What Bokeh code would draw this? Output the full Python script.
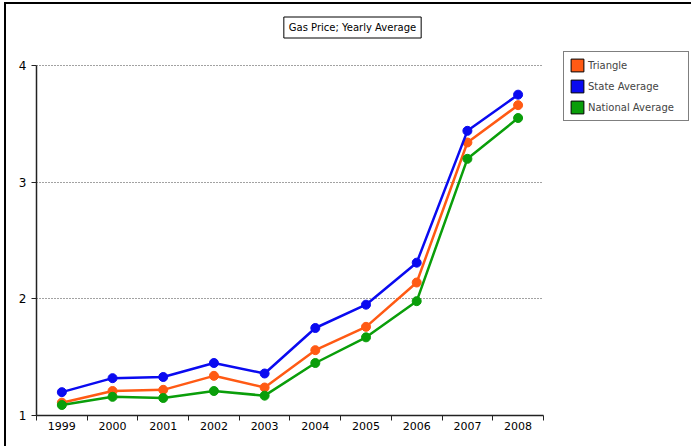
from bokeh.plotting import figure
from bokeh.models import FixedTicker, Label, Legend, LegendItem
from bokeh.embed import file_html
from bokeh.resources import INLINE

years = ["1999", "2000", "2001", "2002", "2003", "2004", "2005", "2006", "2007", "2008"]
triangle = [1.11, 1.21, 1.22, 1.34, 1.24, 1.56, 1.76, 2.14, 3.34, 3.66]
state_avg = [1.20, 1.32, 1.33, 1.45, 1.36, 1.75, 1.95, 2.31, 3.44, 3.75]
national_avg = [1.09, 1.16, 1.15, 1.21, 1.17, 1.45, 1.67, 1.98, 3.20, 3.55]
y_ticks = [1, 2, 3, 4]

series = [
    ("Triangle", triangle, "#ff5a14"),
    ("State Average", state_avg, "#0a0af0"),
    ("National Average", national_avg, "#0a9e0a"),
]

FONT = "DejaVu Sans"
n = len(years)
y_lo, y_hi = y_ticks[0], y_ticks[-1]

# frame covers the canvas so the title and legend are not clipped;
# axes and grid are bounded to the data area
p = figure(width=687, height=444, output_backend="svg", toolbar_location=None,
           x_range=(0, n * 1.296), y_range=(y_lo, y_lo + (y_hi - y_lo) * 1.1743),
           min_border_left=30, min_border_top=0, min_border_right=0, min_border_bottom=33)
p.styles = {"margin-left": "4px", "margin-top": "2px",
            "border-top": "2px solid black", "border-left": "2px solid black"}
p.outline_line_color = None
p.background_fill_color = "white"
p.border_fill_color = "white"

xs = [i + 0.5 for i in range(n)]
nan = float("nan")

legend_items = []
for name, vals, col in series:
    p.line(xs, vals, line_color=col, line_width=2.5)
    p.scatter(xs, vals, marker="circle", size=9, fill_color=col, line_color=col)
    sw = p.quad(left=[nan], right=[nan], bottom=[nan], top=[nan],
                fill_color=col, line_color="black", line_width=1)
    legend_items.append(LegendItem(label=name, renderers=[sw]))

# x axis: labels at category centers, ticks at category boundaries
xa = p.xaxis[0]
xa.bounds = (0, n)
xa.ticker = FixedTicker(ticks=xs, minor_ticks=list(range(n + 1)))
xa.major_label_overrides = {x: y for x, y in zip(xs, years)}
xa.major_tick_line_color = None
xa.major_tick_out = 0
xa.major_tick_in = 0
xa.minor_tick_in = 0
xa.minor_tick_out = 5
xa.minor_tick_line_color = "#222222"
xa.axis_line_color = "#222222"
xa.axis_line_width = 1.5
xa.major_label_text_font = FONT
xa.major_label_text_font_size = "11px"
xa.major_label_text_color = "black"
xa.major_label_standoff = 1

ya = p.yaxis[0]
ya.bounds = (y_lo, y_hi)
ya.ticker = FixedTicker(ticks=y_ticks, minor_ticks=[])
ya.major_tick_in = 0
ya.major_tick_out = 5
ya.major_tick_line_color = "#222222"
ya.axis_line_color = "#222222"
ya.axis_line_width = 1.5
ya.major_label_text_font = FONT
ya.major_label_text_font_size = "12px"
ya.major_label_text_color = "black"
ya.major_label_standoff = 5

p.xgrid.grid_line_color = None
p.ygrid.ticker = FixedTicker(ticks=y_ticks)
p.ygrid.cross_bounds = (0, n)
p.ygrid.grid_line_color = "#444444"
p.ygrid.grid_line_dash = "1 2"
p.ygrid.grid_line_width = 1

title = Label(x=316, y=388, x_units="screen", y_units="screen",
              text="Gas Price; Yearly Average", text_font=FONT, text_font_size="10px",
              text_align="center", text_baseline="middle", text_color="black",
              border_line_color="black", border_line_width=1,
              background_fill_color="white", padding=5)
p.add_layout(title)

legend = Legend(items=legend_items, location=(527, 294),
                border_line_color="black", border_line_width=1,
                background_fill_color="white", background_fill_alpha=1,
                label_text_font=FONT, label_text_font_size="10px",
                glyph_width=16, glyph_height=16, label_standoff=3,
                spacing=5, padding=5, margin=0, label_height=13, label_width=95)
p.add_layout(legend, "center")

open("out.html", "w").write(file_html(p, INLINE))
